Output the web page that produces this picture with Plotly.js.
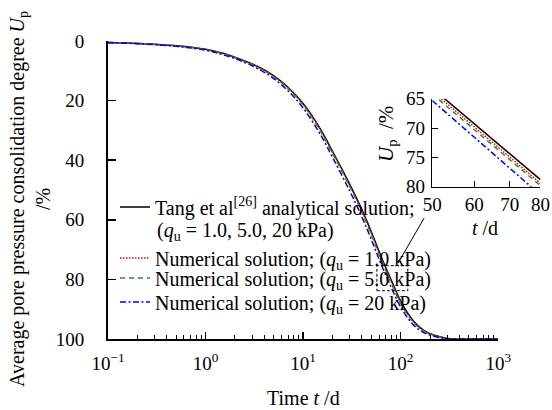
<!DOCTYPE html>
<html>
<head>
<meta charset="utf-8">
<script src="https://cdn.plot.ly/plotly-3.0.1.min.js"></script>
<style>html,body{margin:0;padding:0;background:#fff;}#chart{width:552px;height:410px;}</style>
</head>
<body>
<div id="chart"></div>
<script>
// Time (d)
var timeDays = [0.1, 0.2, 0.5, 1, 1.5, 2, 3, 4, 5, 7, 10, 15, 20, 30, 40, 50, 63, 80, 100, 125, 150, 185, 250, 300, 400, 1000];
// Average pore pressure consolidation degree Up (%)
var upAnalytical = [0.5, 0.8, 1.6, 2.8, 4.1, 5.4, 7.7, 9.7, 11.7, 15.5, 21.0, 29.5, 37.0, 48.0, 56.5, 64.0, 72.3, 80.2, 87.3, 92.5, 95.5, 97.7, 99.2, 99.8, 100, 100];
var upNum1 = [0.5, 0.8, 1.6, 2.8, 4.2, 5.5, 7.8, 9.8, 11.8, 15.7, 21.2, 29.8, 37.3, 48.4, 56.9, 64.5, 72.8, 80.7, 87.7, 92.8, 95.7, 97.8, 99.2, 99.8, 100, 100];
var upNum5 = [0.5, 0.8, 1.6, 2.9, 4.3, 5.6, 7.9, 10.0, 12.0, 15.9, 21.5, 30.1, 37.7, 48.8, 57.4, 65.0, 73.3, 81.2, 88.1, 93.1, 95.9, 97.9, 99.3, 99.8, 100, 100];
var upNum20 = [0.6, 0.9, 1.8, 3.1, 4.6, 5.9, 8.3, 10.5, 12.6, 16.7, 22.5, 31.3, 39.0, 50.3, 59.0, 66.6, 74.9, 82.7, 89.3, 94.0, 96.6, 98.3, 99.5, 99.9, 100, 100];

// Inset (zoom of t = 50-80 d)
var insetT = [50, 80];
var insetAnalytical = [63.2, 78.8];
var insetNum1 = [63.7, 79.4];
var insetNum5 = [64.2, 79.8];
var insetNum20 = [65.3, 81.4];

var xTickVals = [0.1, 1, 10, 100, 1000];
var xTickText = ['10<sup>−1</sup>', '10<sup>0</sup>', '10<sup>1</sup>', '10<sup>2</sup>', '10<sup>3</sup>'];
var insetXTicks = [50, 60, 70, 80];
var insetYTicks = [65, 70, 75, 80];

var legendNames = [
  'Tang et al<sup>[26]</sup> analytical solution;',
  'Numerical solution; (<i>q</i><sub>u</sub> = 1.0 kPa)',
  'Numerical solution; (<i>q</i><sub>u</sub> = 5.0 kPa)',
  'Numerical solution; (<i>q</i><sub>u</sub> = 20 kPa)'
];
var legendSecondLine = '(<i>q</i><sub>u</sub> = 1.0, 5.0, 20 kPa)';

var FONT = '"Liberation Serif", "Times New Roman", serif';
var styles = [
  {color: '#000000', width: 1.5, dash: 'solid'},
  {color: '#ff0000', width: 1.5, dash: '1.5px,1.5px'},
  {color: '#2e8b2e', width: 1.5, dash: '5px,4px'},
  {color: '#0000ff', width: 1.5, dash: '6px,2.5px,2px,2.5px'}
];
var mainSeries = [upAnalytical, upNum1, upNum5, upNum20];
var insetSeries = [insetAnalytical, insetNum1, insetNum5, insetNum20];
var legendIds = ['legend', 'legend2', 'legend3', 'legend4'];

var traces = [];
mainSeries.forEach(function (ys, i) {
  traces.push({
    x: timeDays, y: ys, type: 'scatter', mode: 'lines',
    line: {color: styles[i].color, width: styles[i].width, dash: styles[i].dash, shape: 'spline', smoothing: 1},
    name: legendNames[i], legend: legendIds[i], xaxis: 'x', yaxis: 'y'
  });
});
insetSeries.forEach(function (ys, i) {
  traces.push({
    x: insetT, y: ys, type: 'scatter', mode: 'lines',
    line: {color: styles[i].color, width: styles[i].width, dash: styles[i].dash},
    showlegend: false, xaxis: 'x2', yaxis: 'y2'
  });
});

function legendCfg(y) {
  return {x: 0.016, y: y, xanchor: 'left', yanchor: 'top', bgcolor: 'rgba(0,0,0,0)',
    borderwidth: 0, valign: 'top', font: {family: FONT, size: 20, color: '#000'}, tracegroupgap: 0};
}

var layout = {
  width: 552, height: 410,
  margin: {l: 108, r: 8, t: 41, b: 71},
  paper_bgcolor: '#fff', plot_bgcolor: 'rgba(0,0,0,0)',
  font: {family: FONT, size: 20, color: '#000'},
  xaxis: {
    type: 'log', range: [-1, 3], domain: [0, 0.895], anchor: 'y',
    showline: true, linewidth: 2, linecolor: '#000', mirror: false,
    ticks: 'inside', ticklen: 7, tickwidth: 1.5, tickcolor: '#000',
    tickvals: xTickVals, ticktext: xTickText, ticklabelstandoff: 6,
    showgrid: false, zeroline: false,
    tickfont: {family: FONT, size: 19},
    minor: {ticks: 'inside', ticklen: 4, tickwidth: 1, tickcolor: '#000', dtick: 'D1', showgrid: false}
  },
  yaxis: {
    range: [100, 0], domain: [0, 1], anchor: 'x',
    showline: true, linewidth: 2, linecolor: '#000',
    ticks: 'inside', ticklen: 8, tickwidth: 1.5, tickcolor: '#000',
    dtick: 20, tick0: 0, showgrid: false, zeroline: false,
    ticklabelstandoff: 18,
    tickfont: {family: FONT, size: 19}
  },
  xaxis2: {
    type: 'log', range: [Math.log10(50), Math.log10(80)], domain: [0.7438, 0.9917], anchor: 'y2',
    tickvals: insetXTicks, ticktext: insetXTicks.map(String),
    showline: true, linewidth: 1.5, linecolor: '#000',
    ticks: 'inside', ticklen: 6, tickwidth: 1.2, tickcolor: '#000',
    showgrid: false, zeroline: false, tickfont: {family: FONT, size: 19}
  },
  yaxis2: {
    range: [80, 65], domain: [0.511, 0.806], anchor: 'x2',
    tickvals: insetYTicks,
    showline: true, linewidth: 1.5, linecolor: '#000',
    ticks: 'inside', ticklen: 6, tickwidth: 1.2, tickcolor: '#000',
    showgrid: false, zeroline: false, ticklabelstandoff: 2, tickfont: {family: FONT, size: 19}
  },
  legend: legendCfg(0.5083),
  legend2: legendCfg(0.3375),
  legend3: legendCfg(0.27),
  legend4: legendCfg(0.1892),
  shapes: [
    {type: 'rect', xref: 'paper', yref: 'paper', x0: 0.6167, x1: 0.6877, y0: 0.1621, y1: 0.246,
      line: {color: '#000', width: 1, dash: '3px,2px'}, fillcolor: 'rgba(0,0,0,0)'},
    {type: 'line', xref: 'paper', yref: 'paper', x0: 0.6655, y0: 0.255, x1: 0.7251, y1: 0.406,
      line: {color: '#000', width: 1}}
  ],
  annotations: [
    {text: legendSecondLine, xref: 'paper', yref: 'paper', x: 0.1078, y: 0.362,
      xanchor: 'left', yanchor: 'middle', showarrow: false, font: {family: FONT, size: 20}},
    {text: 'Average pore pressure consolidation degree <i>U</i><sub>p</sub><br>/%', xref: 'paper', yref: 'paper',
      x: -0.179, y: 0.47, xanchor: 'center', yanchor: 'middle', textangle: -90, showarrow: false,
      font: {family: FONT, size: 20}},
    {text: 'Time <i>t</i> /d', xref: 'paper', yref: 'paper', x: 0.4495, y: -0.198,
      xanchor: 'center', yanchor: 'middle', showarrow: false, font: {family: FONT, size: 20}},
    {text: '<i>U</i><sub>p</sub>  /%', xref: 'paper', yref: 'paper', x: 0.64, y: 0.688,
      xanchor: 'center', yanchor: 'middle', textangle: -90, showarrow: false, font: {family: FONT, size: 21}},
    {text: '<i>t</i> /d', xref: 'paper', yref: 'paper', x: 0.8647, y: 0.3725,
      xanchor: 'center', yanchor: 'middle', showarrow: false, font: {family: FONT, size: 20}}
  ]
};

Plotly.newPlot('chart', traces, layout, {displayModeBar: false, staticPlot: true});
</script>
</body>
</html>
